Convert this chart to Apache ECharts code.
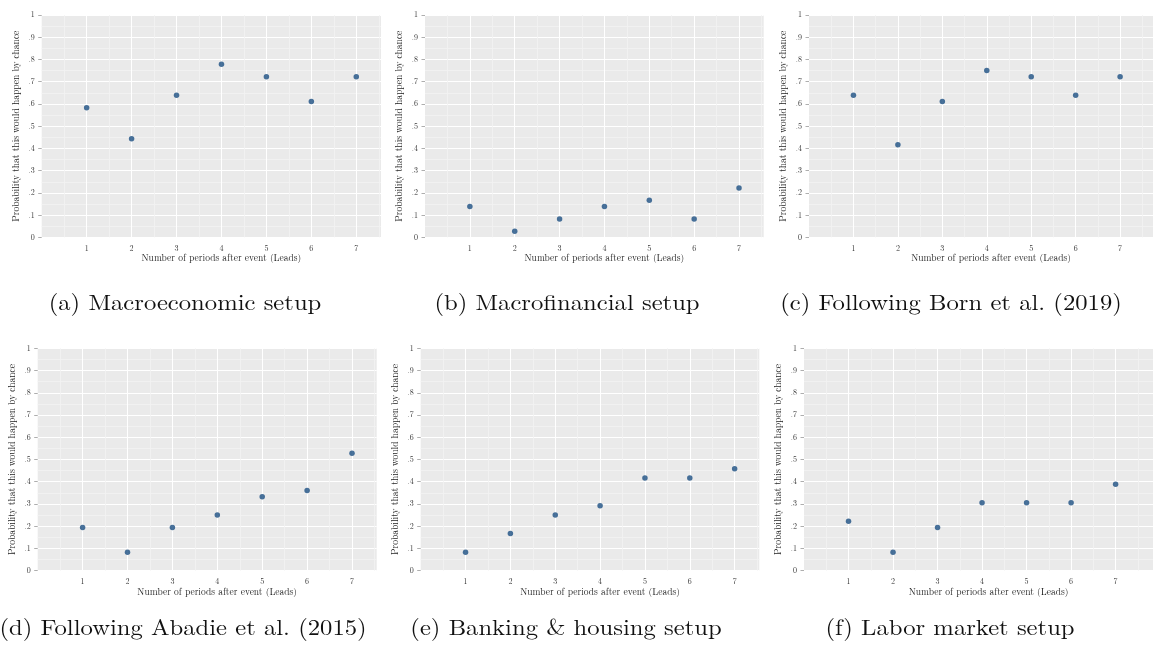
<!DOCTYPE html>
<html>
<head>
<meta charset="utf-8">
<style>
    html, body { margin: 0; padding: 0; background: #fff; }
    #chart { width: 1156px; height: 649px; }
</style>
<script src="https://cdn.jsdelivr.net/npm/echarts@6/dist/echarts.min.js"></script>
</head>
<body>
<div id="chart"></div>
<script>
    // 横轴：事件后的期数
    var leads = [1, 2, 3, 4, 5, 6, 7];

    // 每个面板的概率值
    var macroeconomic = [0.583, 0.444, 0.639, 0.778, 0.722, 0.611, 0.722];
    var macrofinancial = [0.139, 0.028, 0.083, 0.139, 0.167, 0.083, 0.222];
    var bornEtAl = [0.639, 0.417, 0.611, 0.750, 0.722, 0.639, 0.722];
    var abadieEtAl = [0.194, 0.083, 0.194, 0.250, 0.333, 0.361, 0.528];
    var bankingHousing = [0.083, 0.167, 0.250, 0.292, 0.417, 0.417, 0.458];
    var laborMarket = [0.222, 0.083, 0.194, 0.306, 0.306, 0.306, 0.389];

    var captions = [
        '(a) Macroeconomic setup',
        '(b) Macrofinancial setup',
        '(c) Following Born et al. (2019)',
        '(d) Following Abadie et al. (2015)',
        '(e) Banking & housing setup',
        '(f) Labor market setup'
    ];
    var yTitle = 'Probability that this would happen by chance';
    var xTitle = 'Number of periods after event (Leads)';

    var panels = [
        { data: macroeconomic,  left: 41.7,  top: 15,    width: 339.3, xMax: 7.55, cx: 185, cy: 303 },
        { data: macrofinancial, left: 425,   top: 15,    width: 338.7, xMax: 7.55, cx: 567, cy: 303 },
        { data: bornEtAl,       left: 809,   top: 15,    width: 347,   xMax: 7.74, cx: 951, cy: 303 },
        { data: abadieEtAl,     left: 37.7,  top: 348.3, width: 339,   xMax: 7.55, cx: 183, cy: 628 },
        { data: bankingHousing, left: 420.7, top: 348.3, width: 338.6, xMax: 7.55, cx: 566, cy: 628 },
        { data: laborMarket,    left: 804,   top: 348.3, width: 352,   xMax: 7.84, cx: 950, cy: 628 }
    ];

    var serif = '"Latin Modern Roman", "Liberation Serif", "DejaVu Serif", serif';
    var plotH = 222.4;

    var grid = [], xAxis = [], yAxis = [], series = [], graphic = [];

    panels.forEach(function (p, i) {
        grid.push({
            left: p.left, top: p.top, width: p.width, height: plotH,
            show: true, backgroundColor: '#eaeaea', borderWidth: 0
        });
        xAxis.push({
            type: 'value', gridIndex: i, min: 0, max: p.xMax, interval: 1,
            name: xTitle, nameLocation: 'middle', nameGap: 16,
            nameTextStyle: { fontFamily: serif, fontSize: 9.5, color: '#222', padding: [0, 0, 0, 20] },
            axisLine: { show: false },
            axisTick: { show: false },
            axisLabel: {
                margin: 7, fontFamily: serif, fontSize: 8, color: '#333',
                formatter: function (v) { return leads.indexOf(v) >= 0 ? String(v) : ''; }
            },
            splitLine: { show: true, showMinLine: false, showMaxLine: false, lineStyle: { color: '#ffffff', width: 1 } },
            minorTick: { show: true, splitNumber: 2, length: 0 },
            minorSplitLine: { show: true, lineStyle: { color: '#f3f3f3', width: 0.8 } }
        });
        yAxis.push({
            type: 'value', gridIndex: i, min: 0, max: 1, interval: 0.1,
            name: yTitle, nameLocation: 'middle', nameGap: 21, nameRotate: 90,
            nameTextStyle: { fontFamily: serif, fontSize: 9.5, color: '#222' },
            axisLine: { show: false },
            axisTick: { show: true, length: 3.5, lineStyle: { color: '#999', width: 0.8 } },
            axisLabel: {
                margin: 7, fontFamily: serif, fontSize: 8, color: '#333',
                formatter: function (v) {
                    var r = Math.round(v * 10) / 10;
                    if (r === 0) return '0';
                    if (r === 1) return '1';
                    return '.' + Math.round(r * 10);
                }
            },
            splitLine: { show: true, lineStyle: { color: '#ffffff', width: 1 } },
            minorTick: { show: true, splitNumber: 2, length: 0 },
            minorSplitLine: { show: true, lineStyle: { color: '#f3f3f3', width: 0.8 } }
        });
        series.push({
            type: 'scatter', xAxisIndex: i, yAxisIndex: i,
            symbol: 'circle', symbolSize: 5.5,
            itemStyle: { color: '#1c4f82' },
            data: leads.map(function (x, k) { return [x, p.data[k]]; })
        });
        // 子图标题，略微横向拉伸以匹配原图宽度
        graphic.push({
            type: 'text', x: p.cx, y: p.cy, scaleX: 1.12,
            style: {
                text: captions[i], fontFamily: serif, fontSize: 22,
                fill: '#111', textAlign: 'center', textVerticalAlign: 'middle'
            }
        });
    });

    var myChart = echarts.init(document.getElementById('chart'));
    myChart.setOption({
        animation: false,
        grid: grid,
        xAxis: xAxis,
        yAxis: yAxis,
        series: series,
        graphic: graphic
    });
</script>
</body>
</html>
